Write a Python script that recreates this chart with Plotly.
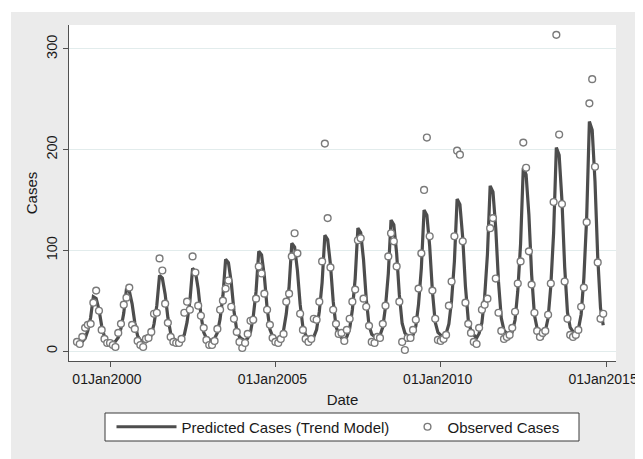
import pandas as pd
import plotly.graph_objects as go

start_month = "1999-01-01"
n_months = 192

predicted = [
    8.9, 8.0, 9.4, 12.6, 20.4, 33.3, 54.0, 52.2, 41.1, 25.0, 14.0, 10.3,
    9.1, 8.0, 9.6, 13.4, 22.6, 37.7, 62.0, 59.8, 46.9, 28.0, 15.0, 10.7,
    10.3, 9.0, 11.0, 15.6, 26.8, 45.3, 75.0, 72.4, 56.5, 33.4, 17.6, 12.3,
    10.5, 9.0, 11.2, 16.3, 28.7, 49.2, 82.0, 79.1, 61.6, 36.0, 18.5, 12.7,
    11.6, 10.0, 12.4, 18.1, 31.9, 54.6, 91.0, 87.8, 68.3, 40.0, 20.5, 14.0,
    11.8, 10.0, 12.7, 18.9, 34.0, 59.0, 99.0, 95.4, 74.1, 42.9, 21.6, 14.5,
    12.9, 11.0, 13.9, 20.6, 36.9, 63.8, 107.0, 103.2, 80.1, 46.5, 23.5, 15.8,
    13.1, 11.0, 14.1, 21.4, 39.1, 68.2, 115.0, 110.8, 85.9, 49.5, 24.5, 16.2,
    13.2, 11.0, 14.3, 22.1, 41.0, 72.0, 122.0, 117.6, 90.9, 52.1, 25.4, 16.6,
    14.4, 12.0, 15.5, 23.8, 43.9, 76.9, 130.0, 125.3, 97.0, 55.7, 27.3, 17.9,
    14.6, 12.0, 15.8, 24.8, 46.6, 82.4, 140.0, 134.9, 104.2, 59.4, 28.6, 18.4,
    15.8, 13.0, 17.1, 26.8, 50.3, 88.9, 151.0, 145.5, 112.4, 64.1, 30.9, 19.9,
    16.0, 13.0, 17.5, 28.1, 53.8, 96.1, 164.0, 158.0, 121.7, 68.9, 32.6, 20.6,
    17.4, 14.0, 19.0, 30.8, 59.4, 106.4, 182.0, 175.3, 135.0, 76.2, 35.8, 22.4,
    17.8, 14.0, 19.6, 32.8, 64.8, 117.4, 202.0, 194.5, 149.4, 83.6, 38.4, 23.4,
    19.3, 15.0, 21.4, 36.3, 72.5, 132.2, 228.0, 219.5, 168.4, 93.8, 42.7, 25.7,
]

observed = [
    9, 7, 14, 23, 26, 27, 48, 60, 40, 21, 12, 8,
    8, 6, 4, 18, 27, 46, 53, 63, 26, 22, 10, 6,
    4, 12, 13, 19, 37, 38, 92, 80, 47, 28, 14, 9,
    8, 8, 12, 38, 49, 41, 94, 78, 45, 35, 23, 11,
    6, 6, 10, 22, 41, 50, 62, 70, 44, 32, 19, 9,
    3, 8, 17, 30, 31, 52, 84, 77, 57, 41, 26, 13,
    9, 8, 12, 17, 49, 57, 94, 117, 97, 37, 21, 12,
    9, 12, 32, 31, 49, 89, 206, 132, 83, 41, 27, 17,
    18, 10, 21, 32, 49, 61, 110, 112, 52, 44, 25, 9,
    8, 14, 13, 27, 45, 94, 117, 109, 84, 49, 9, 1,
    13, 13, 21, 31, 62, 97, 160, 212, 114, 60, 32, 11,
    10, 12, 16, 45, 69, 114, 199, 195, 109, 48, 27, 18,
    9, 7, 23, 41, 46, 52, 122, 132, 72, 38, 20, 12,
    14, 16, 23, 39, 67, 89, 207, 182, 99, 66, 38, 20,
    14, 18, 20, 36, 67, 148, 314, 215, 146, 69, 32, 16,
    14, 16, 21, 44, 63, 128, 246, 270, 183, 88, 32, 37,
]

x_tick_dates = ["2000-01-01", "2005-01-01", "2010-01-01", "2015-01-01"]
y_ticks = [0, 100, 200, 300]

dates = pd.date_range(start_month, periods=n_months, freq="MS")

FONT = "Liberation Sans, Arial, sans-serif"
# the page body adds an 8px offset; the figure fills the rest of the window
OFF = 8
W, H = 643 - OFF, 459 - OFF
PL, PR, PT, PB = 69, 616, 25, 361          # plot area in window pixels
ML, MR, MT, MB = PL - OFF, 643 - PR, PT - OFF, 459 - PB
PW, PH = PR - PL, PB - PT


def px_x(p):
    return (p - PL) / PW


def px_y(p):
    return (PB - p) / PH


fig = go.Figure()
fig.add_trace(go.Scatter(
    x=dates, y=predicted, mode="lines",
    name="Predicted Cases (Trend Model)",
    line=dict(color="#4d4d4d", width=3.2),
    legend="legend",
))
fig.add_trace(go.Scatter(
    x=dates, y=observed, mode="markers",
    name="Observed Cases",
    marker=dict(symbol="circle", size=6.8, color="white",
                line=dict(color="#7a7a7a", width=1.4)),
    legend="legend2",
))

shapes = [
    # white strips framing the grey graph region (top and left)
    dict(type="rect", xref="paper", yref="paper", layer="below",
         x0=px_x(OFF), x1=px_x(643), y0=px_y(12), y1=px_y(OFF),
         fillcolor="white", line=dict(width=0)),
    dict(type="rect", xref="paper", yref="paper", layer="below",
         x0=px_x(OFF), x1=px_x(11), y0=px_y(459), y1=px_y(OFF),
         fillcolor="white", line=dict(width=0)),
    # legend frame
    dict(type="rect", xref="paper", yref="paper", layer="above",
         x0=px_x(105), x1=px_x(579), y0=px_y(441), y1=px_y(413),
         fillcolor="white", line=dict(color="#3a3a3a", width=1)),
]

fig.update_layout(
    template="none",
    width=W, height=H,
    margin=dict(l=ML, r=MR, t=MT, b=MB, autoexpand=False),
    paper_bgcolor="#ebebeb", plot_bgcolor="white",
    font=dict(family=FONT, size=15, color="#1a1a1a"),
    shapes=shapes,
    showlegend=True,
    legend=dict(orientation="h", x=px_x(111.5), xanchor="left",
                y=px_y(427), yanchor="middle", bgcolor="rgba(0,0,0,0)",
                borderwidth=0, itemwidth=60, font=dict(size=15)),
    legend2=dict(orientation="h", x=px_x(407.5), xanchor="left",
                 y=px_y(427), yanchor="middle", bgcolor="rgba(0,0,0,0)",
                 borderwidth=0, font=dict(size=15)),
    xaxis=dict(
        type="date",
        range=["1998-10-05", "2015-04-21"],
        tickvals=x_tick_dates, tickformat="%d%b%Y",
        showgrid=False, zeroline=False, automargin=False,
        showline=True, linecolor="#505050", linewidth=1.3,
        ticks="outside", ticklen=5, tickcolor="#505050", tickwidth=1,
        ticklabeloverflow="allow", ticklabelshift=-3,
        tickfont=dict(size=14),
        title=dict(text="Date", font=dict(size=15), standoff=8),
    ),
    yaxis=dict(
        range=[-9.9, 323.8],
        tickvals=y_ticks, tickangle=-90,
        showgrid=True, gridcolor="#e2ecec", gridwidth=1,
        zeroline=False, automargin=False,
        showline=True, linecolor="#505050", linewidth=1.3,
        ticks="outside", ticklen=5, tickcolor="#505050", tickwidth=1,
        tickfont=dict(size=14.5),
        title=dict(text="Cases", font=dict(size=15), standoff=2),
    ),
)

fig.write_html("out.html")
